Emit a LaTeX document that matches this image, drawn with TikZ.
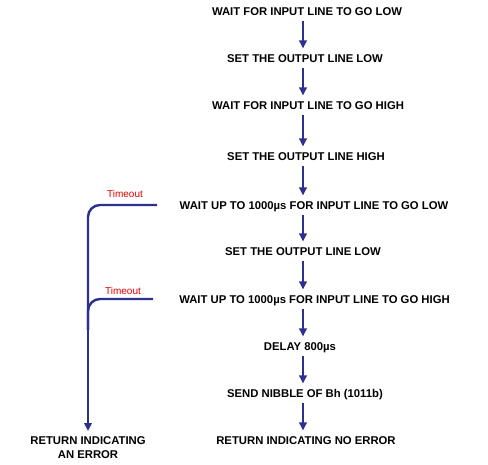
\documentclass[tikz,border=0pt]{standalone}
\usepackage{fontspec}
\setmainfont{Liberation Sans}
\usetikzlibrary{arrows.meta}
\definecolor{navy}{RGB}{44,48,142}
\definecolor{tored}{RGB}{230,0,0}
\tikzset{
  stepfont/.style={font=\fontsize{11.3}{14}\selectfont\bfseries},
  stepbox/.style={stepfont, text height=8.1pt, text depth=0pt, inner xsep=0pt, inner ysep=5.5pt, outer sep=0pt},
  flow/.style={draw=navy, line width=2.4pt, -{Triangle[width=7.5pt,length=8pt]}},
  branch/.style={draw=navy, line width=2.4pt, rounded corners=12pt},
  tlabel/.style={font=\fontsize{10}{12}\selectfont, text=tored, inner sep=0pt}
}
\begin{document}
\begin{tikzpicture}[x=1pt,y=1pt]
\useasboundingbox (0,0) rectangle (488,-464);
\coordinate (col) at (303,0);
\node[stepbox] (n1) at (307,-11) {WAIT FOR INPUT LINE TO GO LOW};
\node[stepbox] (n2) at (305,-58) {SET THE OUTPUT LINE LOW};
\node[stepbox] (n3) at (308,-105) {WAIT FOR INPUT LINE TO GO HIGH};
\node[stepbox] (n4) at (306,-156) {SET THE OUTPUT LINE HIGH};
\node[stepbox] (n5) at (314,-205) {WAIT UP TO 1000µs FOR INPUT LINE TO GO LOW};
\node[stepbox] (n6) at (303,-251) {SET THE OUTPUT LINE LOW};
\node[stepbox] (n7) at (314.5,-299) {WAIT UP TO 1000µs FOR INPUT LINE TO GO HIGH};
\node[stepbox] (n8) at (300,-346) {DELAY 800µs};
\node[stepbox] (n9) at (305,-393) {SEND NIBBLE OF Bh (1011b)};
\node[stepbox] (n10) at (306,-440) {RETURN INDICATING NO ERROR};
\node[stepfont, align=center, anchor=base, inner xsep=0pt, inner ysep=0pt, outer sep=0pt] (err) at (88,-458) {RETURN INDICATING\\AN ERROR};
\foreach \a/\b in {n1/n2,n2/n3,n3/n4,n4/n5,n5/n6,n6/n7,n7/n8,n8/n9,n9/n10}
  \draw[flow] (\a.south -| col) -- (\b.north -| col);
\coordinate (t1) at (157,-205);
\coordinate (t2) at (153,-299);
\coordinate (c1) at (88,-205);
\coordinate (c2) at (88,-299);
\coordinate (tip) at (88,-431);
\draw[branch] (t1) -- (c1) -- (88,-330);
\draw[branch] (t2) -- (c2) -- (88,-330);
\draw[flow] (88,-320) -- (tip);
\node[tlabel] (lab1) at (125,-194) {Timeout};
\node[tlabel] (lab2) at (123,-291) {Timeout};
\end{tikzpicture}
\end{document}
